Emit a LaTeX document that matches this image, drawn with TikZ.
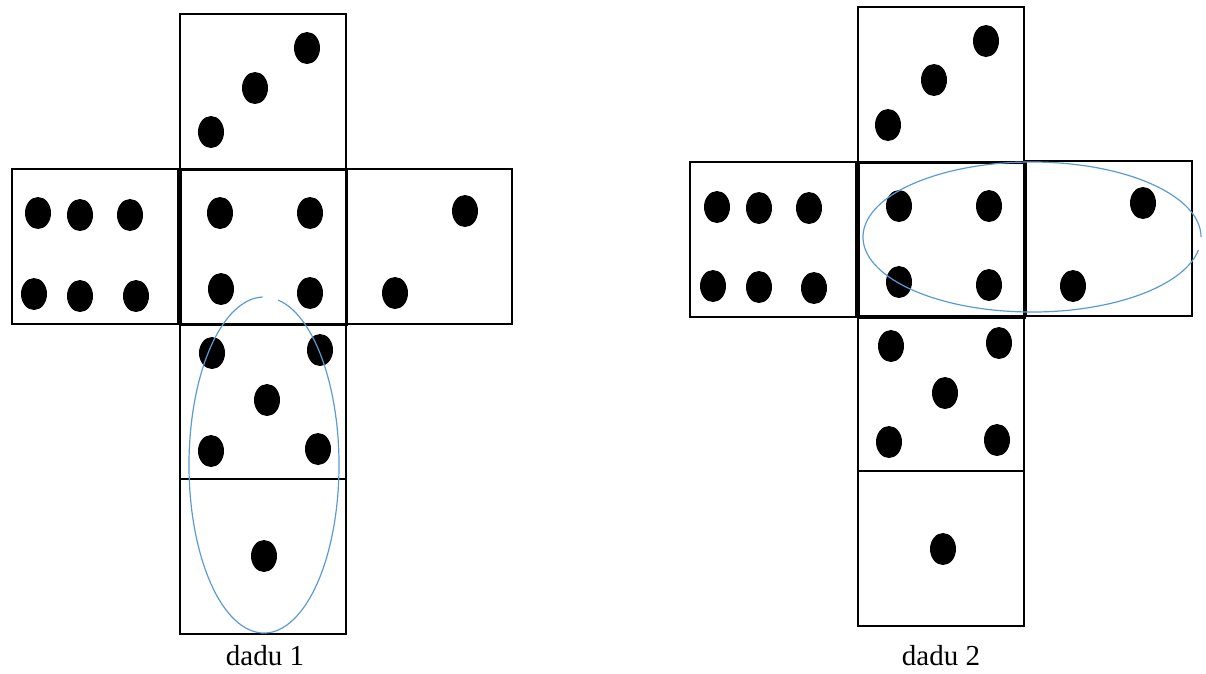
\documentclass[tikz,border=0pt]{standalone}
\usepackage{fontspec}
\setmainfont{Liberation Serif}
\usetikzlibrary{shapes.geometric}
\definecolor{ovalblue}{RGB}{91,155,213}
\begin{document}
\begin{tikzpicture}[x=1pt,y=-1pt,
  face/.style={draw, line width=2.2pt, minimum width=166pt, minimum height=155pt, inner sep=0pt, anchor=north west},
  pip/.style={ellipse, fill=black, minimum width=26pt, minimum height=32pt, inner sep=0pt},
  oval/.style={draw=ovalblue, line width=1.2pt},
  lbl/.style={anchor=base, font=\fontsize{29}{29}\selectfont}]
\useasboundingbox (0,0) rectangle (1206,673);
% dadu 1
\node[face] (a-top) at (179,13) {};
\node[face] (a-left) at (11,168) {};
\node[face, line width=2.8pt] (a-mid) at (179,168) {};
\node[face] (a-right) at (345,168) {};
\node[face] (a-below) at (179,323) {};
\node[face] (a-bottom) at (179,478) {};
\foreach \x/\y [count=\i] in {307/48,255/88,211/132,
  38/213,80/215,130/215,34/294,80/296,136/296,
  220/213,310/213,221/289,310/293,
  465/211,395/293,
  212/353,320/350,267/400,211/451,318/449,
  264/556}
  \node[pip] (ap\i) at (\x,\y) {};
\draw[oval] (264,465) ++(281:75 and 168) arc[start angle=281, end angle=629, x radius=75, y radius=168];
\node[lbl] (l1) at (265,665) {dadu 1};
% dadu 2
\node[face] (b-top) at (857,6) {};
\node[face] (b-left) at (689,161) {};
\node[face, line width=2.8pt] (b-mid) at (857,161) {};
\node[face] (b-right) at (1025,160) {};
\node[face] (b-below) at (857,315) {};
\node[face] (b-bottom) at (857,470) {};
\foreach \x/\y [count=\i] in {986/41,934/80,888/125,
  717/207,759/208,809/208,713/286,759/287,814/288,
  899/206,989/206,899/282,989/285,
  1143/203,1073/286,
  891/346,999/343,945/393,889/442,997/440,
  943/549}
  \node[pip] (bp\i) at (\x,\y) {};
\draw[oval] (1032,237) ++(10:169 and 75) arc[start angle=10, end angle=360, x radius=169, y radius=75];
\node[lbl] (l2) at (941,665) {dadu 2};
\end{tikzpicture}
\end{document}
